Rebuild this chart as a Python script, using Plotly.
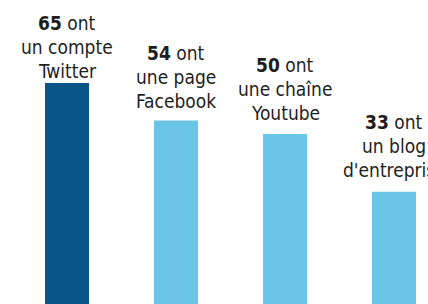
import plotly.graph_objects as go

categories = ["Twitter", "Facebook", "Youtube", "Blog"]
values = [65, 54, 50, 33]
label_line2 = ["un compte", "une page", "une chaîne", "un blog"]
label_line3 = ["Twitter", "Facebook", "Youtube", "d'entreprise"]
colors = ["#0A5587", "#6AC5E6", "#6AC5E6", "#6AC5E6"]

# style: pixel gap between the last label line's baseline and the bar top
label_gaps = [6, 13, 15, 16]
LINE_STEP = 24
BASELINE_OFFSET = 7
FONT = dict(family="DejaVu Sans Condensed, Liberation Serif", size=19, color="#1e1e1e")

fig = go.Figure()
fig.add_trace(go.Bar(
    x=categories, y=values, marker=dict(color=colors, line=dict(width=0)),
    hoverinfo="skip",
))

for cat, v, l2, l3, g in zip(categories, values, label_line2, label_line3, label_gaps):
    lines = [f"<b>{v}</b> ont", l2, l3]
    for i, txt in enumerate(lines):
        k = 2 - i
        fig.add_annotation(
            x=cat, y=v, xref="x", yref="y",
            text=txt, showarrow=False, yanchor="bottom", xanchor="center",
            yshift=g - BASELINE_OFFSET + k * LINE_STEP,
            font=FONT,
        )

fig.update_layout(
    width=428, height=304,
    margin=dict(l=0, r=0, t=0, b=0),
    paper_bgcolor="white", plot_bgcolor="white",
    bargap=0.596,
    showlegend=False,
    xaxis=dict(range=[-0.615, 3.312], visible=False),
    yaxis=dict(range=[0, 89.4], visible=False),
)

fig.write_html("out.html", config={"displayModeBar": False},
               post_script="document.body.style.margin='0';")
